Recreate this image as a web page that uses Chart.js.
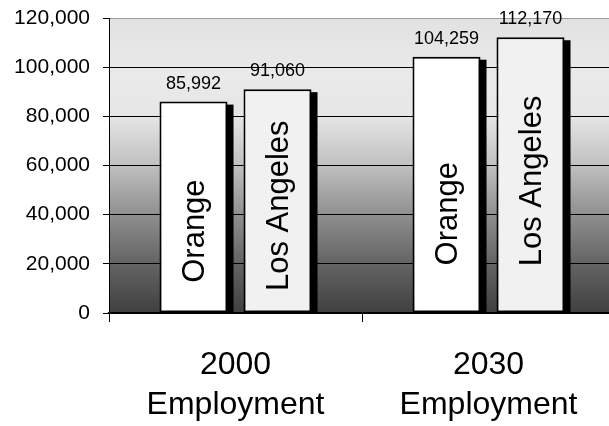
<!DOCTYPE html>
<html>
<head>
<meta charset="utf-8">
<script src="https://cdn.jsdelivr.net/npm/chart.js@4/dist/chart.umd.min.js"></script>
<style>
  html, body { margin: 0; padding: 0; background: #ffffff; overflow: hidden; }
  #wrap { width: 616px; height: 426px; }
</style>
</head>
<body>
<div id="wrap"><canvas id="c" width="616" height="426"></canvas></div>
<script>
// ---- data ----
const categories = [["2000", "Employment"], ["2030", "Employment"]];
const seriesNames = ["Orange", "Los Angeles"];
const orangeValues = [85992, 104259];
const losAngelesValues = [91060, 112170];
const yTickValues = [0, 20000, 40000, 60000, 80000, 100000, 120000];

const FONT = "'Liberation Sans', Arial, sans-serif";

const bgPlugin = {
  id: 'bg',
  beforeDraw(chart) {
    const { ctx, chartArea: a } = chart;
    const g = ctx.createLinearGradient(0, a.top, 0, a.bottom);
    g.addColorStop(0, '#e2e2e2');
    g.addColorStop(0.2, '#eaeaea');
    g.addColorStop(0.33, '#e6e6e6');
    g.addColorStop(0.5, '#c0c0c0');
    g.addColorStop(0.67, '#8e8e8e');
    g.addColorStop(0.83, '#646464');
    g.addColorStop(1, '#404040');
    ctx.save();
    ctx.fillStyle = g;
    ctx.fillRect(a.left, a.top, a.right - a.left, a.bottom - a.top);
    ctx.restore();
  }
};

const shadowPlugin = {
  id: 'shadow',
  beforeDatasetsDraw(chart) {
    const { ctx, chartArea: a } = chart;
    ctx.save();
    ctx.fillStyle = '#000000';
    chart.data.datasets.forEach((ds, i) => {
      chart.getDatasetMeta(i).data.forEach(bar => {
        const p = bar.getProps(['x', 'y', 'base', 'width'], true);
        const left = p.x - p.width / 2;
        ctx.fillRect(left + 6, p.y + 3, p.width, a.bottom - p.y - 3);
      });
    });
    ctx.restore();
  }
};

const labelPlugin = {
  id: 'labels',
  afterDatasetsDraw(chart) {
    const { ctx } = chart;
    ctx.save();
    ctx.fillStyle = '#000000';
    chart.data.datasets.forEach((ds, i) => {
      chart.getDatasetMeta(i).data.forEach((bar, j) => {
        const p = bar.getProps(['x', 'y', 'base', 'width'], true);
        // value label above bar
        ctx.font = '18px ' + FONT;
        ctx.textAlign = 'center';
        ctx.textBaseline = 'alphabetic';
        ctx.fillText(ds.data[j].toLocaleString('en-US'), p.x, p.y - 13);
        // rotated series name inside bar
        const cy = p.base - (p.base - p.y) * ds.labelFrac;
        ctx.save();
        ctx.translate(p.x + 2, cy);
        ctx.rotate(-Math.PI / 2);
        ctx.font = '31px ' + FONT;
        ctx.textAlign = 'center';
        ctx.textBaseline = 'middle';
        ctx.fillText(ds.label, 0, 0);
        ctx.restore();
      });
    });
    ctx.restore();
  }
};

new Chart(document.getElementById('c'), {
  type: 'bar',
  data: {
    labels: categories,
    datasets: [
      {
        label: seriesNames[0],
        data: orangeValues,
        backgroundColor: '#ffffff',
        borderColor: '#000000',
        borderWidth: 2,
        borderSkipped: false,
        labelFrac: 0.386
      },
      {
        label: seriesNames[1],
        data: losAngelesValues,
        backgroundColor: '#f1f1f1',
        borderColor: '#000000',
        borderWidth: 2,
        borderSkipped: false,
        labelFrac: 0.478
      }
    ]
  },
  options: {
    responsive: false,
    animation: false,
    devicePixelRatio: 1,
    categoryPercentage: 0.664,
    barPercentage: 0.81,
    layout: { padding: { top: 18, right: 1, left: 0, bottom: 0 }, autoPadding: false },
    plugins: {
      legend: { display: false },
      tooltip: { enabled: false },
      title: { display: false }
    },
    scales: {
      x: {
        grid: {
          display: true,
          drawOnChartArea: false,
          drawTicks: true,
          tickLength: 9,
          tickColor: '#000000',
          tickWidth: 1,
          offset: true
        },
        border: { display: true, color: '#000000', width: 2 },
        ticks: {
          color: '#000000',
          font: { family: FONT, size: 32, lineHeight: 1.25 },
          padding: 23,
          maxRotation: 0,
          autoSkip: false
        },
        afterFit(s) { s.height = 113; s.paddingLeft = 0; s.paddingRight = 0; }
      },
      y: {
        min: 0,
        max: 120000,
        afterBuildTicks(s) { s.ticks = yTickValues.map(v => ({ value: v })); },
        grid: {
          color: ctx => (ctx.tick && ctx.tick.value === 120000) ? '#9c9c9c' : '#000000',
          lineWidth: 1,
          drawTicks: true,
          tickLength: 6,
          tickColor: '#000000'
        },
        border: { display: true, color: '#000000', width: 1 },
        ticks: {
          color: '#000000',
          font: { family: FONT, size: 21 },
          padding: 13,
          callback: v => Number(v).toLocaleString('en-US')
        },
        afterFit(s) { s.width = 109; s.paddingTop = 0; s.paddingBottom = 0; }
      }
    }
  },
  plugins: [bgPlugin, shadowPlugin, labelPlugin]
});
</script>
</body>
</html>
